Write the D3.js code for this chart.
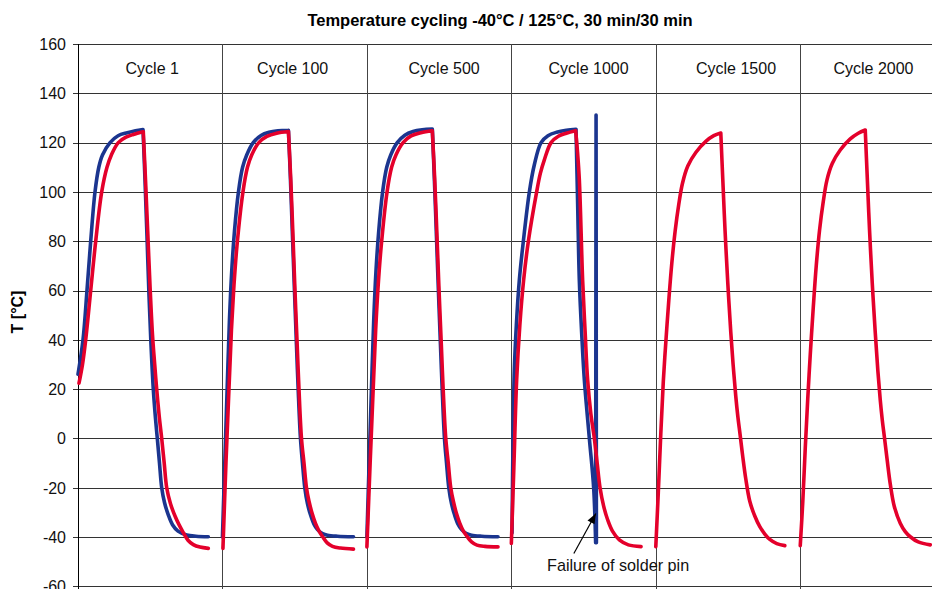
<!DOCTYPE html>
<html>
<head>
<meta charset="utf-8">
<script src="https://cdn.jsdelivr.net/npm/d3@7/dist/d3.min.js"></script>
<style>
  html, body { margin: 0; padding: 0; background: #fff; }
  svg { display: block; font-family: "Liberation Sans", Arial, sans-serif; }
</style>
</head>
<body>
<svg id="chart" width="932" height="589"></svg>
<script>
// ---------- data ----------
const title = "Temperature cycling -40°C / 125°C, 30 min/30 min";
const yLabel = "T [°C]";
const cycles = ["Cycle 1", "Cycle 100", "Cycle 500", "Cycle 1000", "Cycle 1500", "Cycle 2000"];
const yTicks = [-60, -40, -20, 0, 20, 40, 60, 80, 100, 120, 140, 160];
const annotation = "Failure of solder pin";

// each point: [minutes inside the panel, temperature °C]
const blue1 = [[0,26],[2.31,40],[4.15,60],[5.86,80],[7.85,100],[9.6,110],[11.3,115],[14.8,120],[18.5,122.8],[22.8,124],[26.5,124.8],[30,125.3],
  [30.92,105],[31.84,82],[32.77,58],[33.69,38],[34.75,20],[35.77,8],[36.6,0],[37.61,-10],[38.63,-20],[39.92,-26],[41.67,-31],[43.61,-35],[46.15,-37.6],[50.17,-39.2],[54.46,-39.7],[60.14,-39.9]];
const red1 = [[0.46,22.4],[2.08,30],[3.55,40],[5.86,60],[8.17,80],[10.94,100],[13.38,110],[15.4,115],[18.6,120],[22.15,122.2],[25.52,123.3],[30.14,124.4],
  [31.15,105],[32.17,84],[33.23,62],[34.38,42],[35.4,30],[36.32,20],[37.48,9],[38.63,0],[39.78,-10],[40.94,-20],[42.69,-26.5],[44.77,-31.5],[46.61,-35],[48.46,-38],[50.77,-41.3],[53.21,-43.1],[56.3,-44.1],[60.14,-44.6]];

const blue100 = [[0,-40],[1.15,-8],[2.17,20],[3.23,48],[4.29,68],[5.54,84],[7.38,100],[9.3,110],[11.2,115],[14.2,120],[17.8,122.9],[21.5,124.2],[25.6,124.8],[30.46,125],
  [31.39,105],[32.32,82],[33.24,60],[34.16,38],[34.95,20],[36.01,0],[36.93,-10],[38,-20],[39.24,-26.5],[40.63,-31],[42.24,-34.8],[43.86,-37],[46.17,-38.6],[48.48,-39.3],[53.09,-39.7],[60.48,-39.9]];
const red100 = [[0.23,-44.6],[1.62,-10],[3,20],[4.15,44],[5.31,62],[6.69,78],[9.46,100],[11.54,110],[13.5,115],[16.8,120],[20.5,122.5],[25,123.8],[30.46,124.5],
  [31.53,105],[32.55,82],[33.47,60],[34.49,38],[35.32,20],[36.47,0],[37.63,-10],[38.78,-20],[39.94,-25.5],[41.41,-30.5],[42.94,-34.5],[44.46,-37.4],[46.17,-39.8],[48.34,-42.4],[50.78,-43.8],[54.48,-44.5],[60.48,-44.9]];

const blue500 = [[0,-40],[1.1,-8],[2.1,20],[3.15,48],[4.2,68],[5.45,84],[7.25,100],[9.15,110],[11,115],[14,120],[17.5,123],[21.3,124.5],[25.5,125.2],[30.2,125.5],
  [31.15,105],[32.1,82],[33,60],[33.95,38],[34.75,20],[35.8,0],[36.75,-10],[37.8,-20],[39.05,-26.5],[40.45,-31],[42.05,-34.8],[43.7,-37],[46,-38.6],[48.3,-39.3],[53,-39.7],[60.5,-39.9]];
const red500 = [[0,-44],[1.5,-10],[2.9,20],[4.05,44],[5.2,62],[6.6,78],[9.3,100],[11.4,110],[13.4,115],[16.7,120],[20.4,122.7],[24.9,124],[30.2,124.8],
  [31.3,105],[32.35,82],[33.3,60],[34.35,38],[35.2,20],[36.4,0],[37.55,-10],[38.7,-20],[39.9,-25.5],[41.35,-30.5],[42.9,-34.5],[44.4,-37.4],[46.1,-39.6],[48.3,-42],[50.8,-43.3],[54.5,-43.8],[60.5,-44]];

const blue1000 = [[0.32,-38.4],[0.78,0],[1.38,28],[2.31,46],[3.69,64.3],[5.54,80],[8.31,100],[10.61,111],[13.71,120],[16.9,122.8],[20.9,124.2],[25.38,125],[29.86,125.4],
  [30.6,95],[31.38,64],[32.5,42],[33.69,23.7],[36,0],[37.98,-20],[38.9,-42.3],[39.1,131.2],[39.25,-42.3]];
const red1000 = [[0,-42.6],[1.15,-12],[2.45,23.7],[3.92,46],[5.68,64.3],[7.85,80],[11.68,100],[13.38,107.5],[15.23,113],[18.32,120],[21.69,122.6],[25.38,123.8],[29.68,124.8],
  [30.46,117],[31.38,104.8],[32.91,64],[34.06,43],[35.21,23.7],[36.69,10],[38.31,0],[39.6,-10],[40.94,-20],[42.6,-27.5],[44.44,-33],[46.61,-37.5],[49.84,-41.2],[54,-43.2],[59.86,-43.9]];

const red1500 = [[0,-43.9],[1.15,-22],[2.31,2],[3.46,23],[4.62,39],[6,56],[7.38,71],[8.91,84],[10.61,95],[12.32,103.5],[14.77,110.5],[18.46,116],[23.08,120.5],[26.77,122.8],[30,123.9],
  [30.92,105],[31.98,84],[33.23,63],[34.61,43],[35.77,29],[36.92,17],[37.85,9],[38.91,1.5],[40.15,-7.5],[41.54,-16.5],[43.38,-25.5],[45.69,-31.5],[48,-35.8],[50.31,-38.8],[52.61,-41],[55.84,-42.7],[59.54,-43.5]];
const red2000 = [[0,-43.5],[1.15,-26],[2.31,-4],[3.46,16],[4.62,34],[6,53],[7.38,70],[8.91,84.5],[10.61,96],[12.32,104.8],[14.77,111.5],[18.46,117],[23.08,121.5],[26.77,123.8],[30,125.1],
  [30.92,106],[31.98,84.5],[33.23,63],[34.61,43],[35.77,28],[36.92,15.6],[37.85,7.5],[38.91,0],[40.15,-9],[41.54,-18.5],[43.38,-27.5],[46.15,-34.4],[48.46,-37.8],[50.77,-39.9],[54.46,-42],[60,-43.2]];

const blueSeries = [blue1, blue100, blue500, blue1000, null, null];
const redSeries = [red1, red100, red500, red1000, red1500, red2000];

// ---------- layout ----------
const W = 932, H = 589;
const plotLeft = 78, plotTop = 44, plotBottom = 586.3;
const panelPx = 144.45;
const panelMin = 400 / 6;
const labelNudge = [2, -2, 5, 5, 8, 1];
const blueColor = "#1b358f", redColor = "#e4002b";

const svg = d3.select("#chart");
svg.append("rect").attr("width", W).attr("height", H).attr("fill", "#fff");

const x = d3.scaleLinear().domain([0, 400]).range([plotLeft, plotLeft + 6 * panelPx]);
const y = d3.scaleLinear().domain([-60, 160]).range([plotBottom, plotTop]);

// horizontal grid
svg.append("g").selectAll("line").data(yTicks).join("line")
  .attr("x1", plotLeft - 5).attr("x2", W)
  .attr("y1", d => Math.round(y(d)) + 0.5).attr("y2", d => Math.round(y(d)) + 0.5)
  .attr("stroke", "#333").attr("stroke-width", 1);

// vertical panel dividers + axis
svg.append("g").selectAll("line").data(d3.range(0, 7)).join("line")
  .attr("x1", d => Math.round(x(d * panelMin)) + 0.5).attr("x2", d => Math.round(x(d * panelMin)) + 0.5)
  .attr("y1", plotTop).attr("y2", H)
  .attr("stroke", d => d === 0 ? "#000" : "#444").attr("stroke-width", 1);

// y tick labels
svg.append("g").selectAll("text").data(yTicks).join("text")
  .attr("x", 66).attr("y", d => y(d) + 5.8)
  .attr("text-anchor", "end").attr("font-size", 16).attr("fill", "#111")
  .text(d => d);

// title
svg.append("text").attr("x", 500).attr("y", 26).attr("text-anchor", "middle")
  .attr("font-size", 16.5).attr("font-weight", "bold").attr("fill", "#000").text(title);

// y label
svg.append("text").attr("transform", "translate(23,312) rotate(-90)")
  .attr("text-anchor", "middle").attr("font-size", 16).attr("font-weight", "bold")
  .attr("fill", "#000").text(yLabel);

// cycle labels
svg.append("g").selectAll("text").data(cycles).join("text")
  .attr("x", (d, i) => x((i + 0.5) * panelMin) + labelNudge[i]).attr("y", 74)
  .attr("text-anchor", "middle").attr("font-size", 16).attr("fill", "#111")
  .text(d => d);

// curves: heating and cooling legs are smoothed separately so the switch-over stays sharp
const smooth = d3.line().curve(d3.curveCatmullRom.alpha(0.5));
const straight = d3.line();
function drawSeries(series, color) {
  series.forEach((pts, i) => {
    if (!pts) return;
    const px = pts.map(p => [x(i * panelMin + p[0]), y(p[1])]);
    let peak = 0;
    pts.forEach((p, k) => { if (p[0] <= 31 && p[1] > pts[peak][1]) peak = k; });
    let spike = px.length;
    for (let k = peak + 1; k < pts.length - 1; k++) {
      if (pts[k + 1][1] - pts[k][1] > 50) { spike = k; break; }
    }
    const parts = [px.slice(0, peak + 1), px.slice(peak, spike + 1)];
    const d = parts.map(p => smooth(p)).join("") + (spike < px.length ? straight(px.slice(spike)) : "");
    svg.append("path")
      .attr("d", d)
      .attr("fill", "none").attr("stroke", color).attr("stroke-width", 3.6)
      .attr("stroke-linejoin", "round").attr("stroke-linecap", "round");
  });
}
drawSeries(blueSeries, blueColor);
drawSeries(redSeries, redColor);

// annotation with arrow
const tip = [x(3 * panelMin + 39.0), y(-30.5)];
const tail = [tip[0] - 22, tip[1] + 40];
svg.append("line").attr("x1", tail[0]).attr("y1", tail[1]).attr("x2", tip[0]).attr("y2", tip[1])
  .attr("stroke", "#000").attr("stroke-width", 1.2);
const ang = Math.atan2(tip[1] - tail[1], tip[0] - tail[0]);
const arrowLen = 10, arrowHalf = 4;
const bx = tip[0] - arrowLen * Math.cos(ang), by = tip[1] - arrowLen * Math.sin(ang);
svg.append("path")
  .attr("d", `M${tip[0]},${tip[1]} L${bx + arrowHalf * Math.sin(ang)},${by - arrowHalf * Math.cos(ang)} L${bx - arrowHalf * Math.sin(ang)},${by + arrowHalf * Math.cos(ang)} Z`)
  .attr("fill", "#000");
svg.append("text").attr("x", 547).attr("y", 571).attr("font-size", 16.2).attr("fill", "#111").text(annotation);
</script>
</body>
</html>
